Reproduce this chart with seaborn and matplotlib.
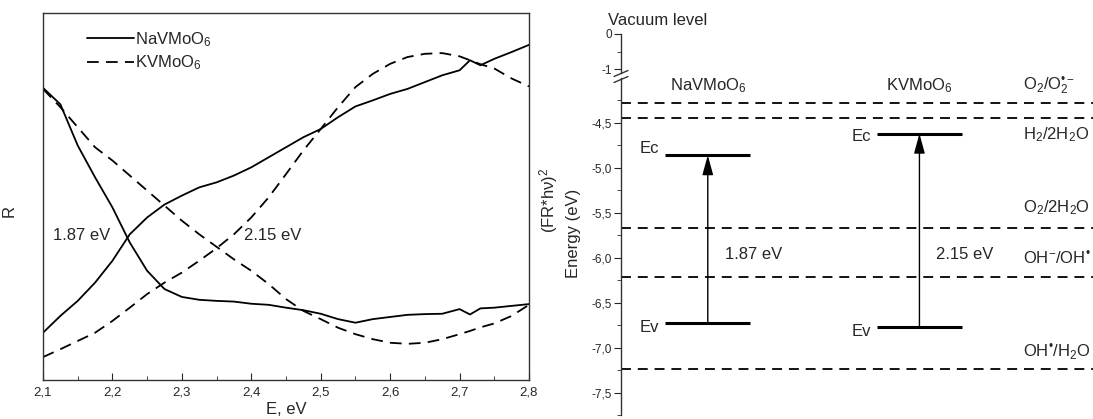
import numpy as np
import pandas as pd
import matplotlib
matplotlib.use("Agg")
import matplotlib.pyplot as plt
from matplotlib.ticker import MultipleLocator, FixedLocator, FuncFormatter
import seaborn as sns

# ==========================================
# Data: left panel (reflectance / Kubelka-Munk curves)
# ==========================================
energy = [2.100, 2.125, 2.150, 2.175, 2.200, 2.225, 2.250, 2.275, 2.300, 2.325,
          2.350, 2.375, 2.400, 2.425, 2.450, 2.475, 2.500, 2.525, 2.550, 2.575,
          2.600, 2.625, 2.650, 2.675, 2.700, 2.715, 2.730, 2.750, 2.775, 2.800]

na_r = [0.791, 0.745, 0.630, 0.541, 0.457, 0.359, 0.280, 0.229, 0.207, 0.199,
        0.196, 0.194, 0.188, 0.185, 0.177, 0.170, 0.160, 0.145, 0.135, 0.145,
        0.151, 0.157, 0.159, 0.160, 0.173, 0.158, 0.175, 0.177, 0.182, 0.187]

na_fr = [0.107, 0.154, 0.196, 0.247, 0.308, 0.382, 0.429, 0.465, 0.490, 0.513,
         0.527, 0.546, 0.569, 0.597, 0.625, 0.653, 0.676, 0.709, 0.739, 0.756,
         0.774, 0.788, 0.807, 0.826, 0.840, 0.868, 0.854, 0.872, 0.891, 0.911]

k_r = [0.788, 0.737, 0.681, 0.625, 0.588, 0.546, 0.504, 0.462, 0.420, 0.382,
       0.347, 0.312, 0.280, 0.243, 0.201, 0.168, 0.145, 0.121, 0.103, 0.089,
       0.079, 0.076, 0.079, 0.089, 0.103, 0.112, 0.122, 0.133, 0.154, 0.185]

k_fr = [0.039, 0.061, 0.084, 0.107, 0.140, 0.177, 0.215, 0.247, 0.275, 0.308,
        0.343, 0.382, 0.429, 0.485, 0.550, 0.616, 0.676, 0.737, 0.793, 0.830,
        0.858, 0.877, 0.886, 0.888, 0.879, 0.868, 0.857, 0.845, 0.817, 0.795]

# crossing points (band gap estimates)
gap_labels_left = ["1.87 eV", "2.15 eV"]
gap_text_pos = [(2.115, 0.378), (2.390, 0.378)]

# ==========================================
# Data: right panel (band edges and redox potentials)
# ==========================================
materials = ["NaVMoO$_6$", "KVMoO$_6$"]
ec = [-4.86, -4.62]
ev = [-6.73, -6.77]
gaps = ["1.87 eV", "2.15 eV"]

redox_labels = ["O$_2$/O$_2^{\u2022-}$", "H$_2$/2H$_2$O", "O$_2$/2H$_2$O",
                "OH$^{-}$/OH$^{\u2022}$", "OH$^{\u2022}$/H$_2$O"]
redox_levels = [-4.28, -4.44, -5.67, -6.21, -7.24]
redox_text_y = [-4.09, -4.63, -5.44, -6.00, -7.05]

energy_ticks = [-4.5, -5.0, -5.5, -6.0, -6.5, -7.0, -7.5]

# ==========================================
# Style
# ==========================================
sns.set_style("ticks")
plt.rcParams["font.family"] = ["Liberation Sans", "DejaVu Sans"]
plt.rcParams["mathtext.fontset"] = "custom"
plt.rcParams["mathtext.rm"] = "Liberation Sans"
plt.rcParams["mathtext.it"] = "Liberation Sans:italic"
plt.rcParams["axes.linewidth"] = 1.0
plt.rcParams["axes.edgecolor"] = "#333333"

W, H = 1093, 419
fig = plt.figure(figsize=(W / 100, H / 100), dpi=100)


def box(x0, y0, x1, y1):
    # pixel box (top-left origin) -> figure fraction rect
    return [x0 / W, 1 - y1 / H, (x1 - x0) / W, (y1 - y0) / H]


comma = FuncFormatter(lambda v, p: f"{v:.1f}".replace(".", ","))

# ==========================================
# Left panel
# ==========================================
ax = fig.add_axes(box(43, 13, 529, 380))
sns.lineplot(x=energy, y=na_r, ax=ax, color="black", lw=1.3, label="NaVMoO$_6$")
sns.lineplot(x=energy, y=k_r, ax=ax, color="black", lw=1.3, linestyle="--", label="KVMoO$_6$")
sns.lineplot(x=energy, y=na_fr, ax=ax, color="black", lw=1.3)
sns.lineplot(x=energy, y=k_fr, ax=ax, color="black", lw=1.3, linestyle="--")
for line in ax.get_lines():
    if line.get_linestyle() == "--":
        line.set_dashes((6.5, 4))

ax.set_xlim(2.1, 2.8)
ax.set_ylim(-0.025, 1.0)
ax.xaxis.set_major_locator(MultipleLocator(0.1))
ax.xaxis.set_minor_locator(MultipleLocator(0.05))
ax.xaxis.set_major_formatter(comma)
ax.tick_params(axis="x", which="both", direction="in", labelsize=9.5, top=False, pad=5)
ax.tick_params(axis="x", which="major", length=5)
ax.tick_params(axis="x", which="minor", length=3)
ax.set_yticks([])
ax.set_xlabel("E, eV", fontsize=12, labelpad=2)
ax.set_ylabel("R", fontsize=12)
ax.yaxis.set_label_coords(-0.055, 0.46)

for txt, (gx, gy) in zip(gap_labels_left, gap_text_pos):
    ax.text(gx, gy, txt, fontsize=12, va="center", ha="left")

leg = ax.legend(loc="upper left", frameon=False, fontsize=12, handlelength=2.8,
                handletextpad=0.1, labelspacing=0.3, bbox_to_anchor=(0.06, 0.995))
for h in leg.get_lines():
    if h.get_linestyle() == "--":
        h.set_dashes((6.5, 4))

fig.text(549 / W, 1 - 200 / H, "(FR*h\u03bd)$^2$", rotation=90, fontsize=12,
         ha="center", va="center")

# ==========================================
# Right panel (broken energy axis)
# ==========================================
ax_top = fig.add_axes(box(621, 34, 1093, 73))
ax_bot = fig.add_axes(box(621, 78, 1093, 415))

x_pos = np.arange(len(materials))
xlim = (-0.41, 1.82)

for a in (ax_top, ax_bot):
    a.set_xlim(*xlim)
    for s in ("top", "right", "bottom"):
        a.spines[s].set_visible(False)
    a.set_xticks([])
    a.tick_params(axis="y", which="both", direction="out", labelsize=8.5, pad=1.5)
    a.tick_params(axis="y", which="major", length=5)
    a.tick_params(axis="y", which="minor", length=3)

ax_top.set_ylim(-1.1, 0)
ax_top.yaxis.set_major_locator(FixedLocator([0, -1]))
ax_top.yaxis.set_minor_locator(FixedLocator([-0.5]))
ax_top.yaxis.set_major_formatter(FuncFormatter(lambda v, p: f"{v:.0f}"))
ax_top.text(-0.47, 0.38, "Vacuum level", fontsize=12, ha="left", va="center", clip_on=False)

ax_bot.set_ylim(-7.75, -4.0)
ax_bot.yaxis.set_major_locator(FixedLocator(energy_ticks))
ax_bot.yaxis.set_minor_locator(FixedLocator([t + 0.25 for t in energy_ticks] + [-7.75]))
ax_bot.yaxis.set_major_formatter(comma)
ax_bot.set_ylabel("Energy (eV)", fontsize=12)
ax_bot.yaxis.set_label_coords(-0.085, 0.54)

# break marks on the axis
for yb in (73.5, 79.5):
    fig.add_artist(plt.Line2D([614 / W, 628 / W], [1 - (yb + 3) / H, 1 - (yb - 3) / H],
                              color="#333333", lw=1.0))

# redox potentials
for lvl, lab, ty in zip(redox_levels, redox_labels, redox_text_y):
    ax_bot.axhline(lvl, color="black", lw=1.3, dashes=(5.5, 3.8))
    ax_bot.text(1.49, ty, lab, fontsize=12, ha="left", va="center", clip_on=False)

# band edges
half = 0.2
ec_dy = [0.08, -0.03]
for xp, name, c, v, g, dy in zip(x_pos, materials, ec, ev, gaps, ec_dy):
    ax_bot.hlines([c, v], xp - half, xp + half, color="black", lw=2.2)
    ax_bot.annotate("", xy=(xp, c), xytext=(xp, v),
                    arrowprops=dict(arrowstyle="-|>,head_length=0.8,head_width=0.22",
                                    color="black", lw=1.0, shrinkA=0, shrinkB=0,
                                    mutation_scale=15))
    ax_bot.text(xp - half - 0.03, c + dy, "Ec", fontsize=12, ha="right", va="center")
    ax_bot.text(xp - half - 0.03, v - 0.05, "Ev", fontsize=12, ha="right", va="center")
    ax_bot.text(xp + 0.08, -5.96, g, fontsize=12, ha="left", va="center")
    ax_bot.text(xp, -4.09, name, fontsize=12, ha="center", va="center", clip_on=False)

fig.savefig("out.png", dpi=100)
